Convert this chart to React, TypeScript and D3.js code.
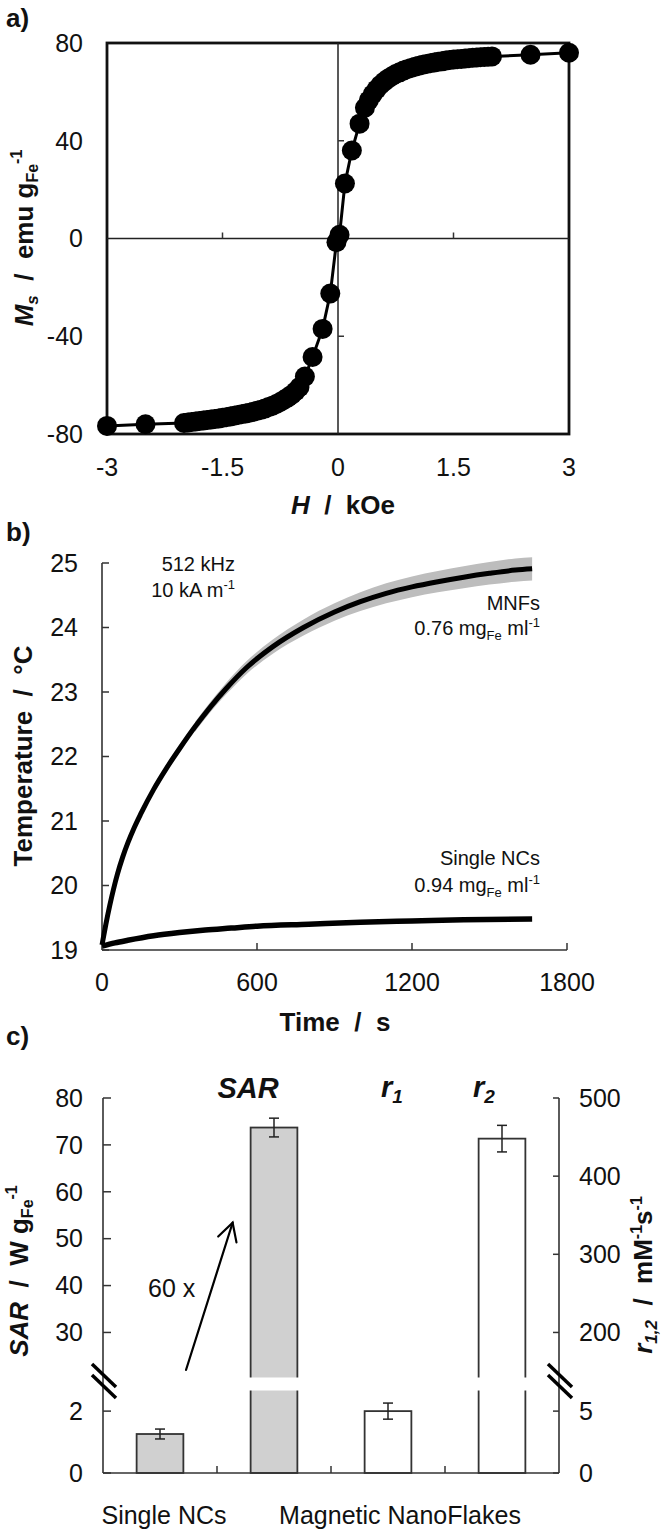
import React from 'react';
import * as d3 from 'd3';

const FONT = '"Liberation Sans", Arial, Helvetica, sans-serif';
const INK = '#111';

// ---------- Panel a: magnetization loop ----------
const loopH = [
  -3.0, -2.5, -2.0,
  -1.95, -1.9, -1.85, -1.8, -1.75, -1.7, -1.65, -1.6, -1.55, -1.5,
  -1.45, -1.4, -1.35, -1.3, -1.25, -1.2, -1.15, -1.1, -1.05, -1.0,
  -0.95, -0.9, -0.85, -0.8, -0.75, -0.7, -0.65, -0.6, -0.55, -0.5,
  -0.43, -0.33, -0.2, -0.1, -0.02,
  0.02, 0.09, 0.18, 0.28, 0.35,
  0.4, 0.45, 0.5, 0.55, 0.6, 0.65, 0.7, 0.75, 0.8, 0.85,
  0.9, 0.95, 1.0, 1.05, 1.1, 1.15, 1.2, 1.25, 1.3, 1.35,
  1.4, 1.45, 1.5, 1.55, 1.6, 1.65, 1.7, 1.75, 1.8, 1.85,
  1.9, 1.95, 2.0, 2.5, 3.0,
];
const loopM = [
  -76.7, -76.0, -75.5,
  -75.3, -75.1, -74.9, -74.7, -74.5, -74.3, -74.1, -73.9, -73.7, -73.4,
  -73.1, -72.8, -72.5, -72.2, -71.9, -71.6, -71.3, -70.9, -70.5, -70.1,
  -69.6, -69.0, -68.4, -67.7, -66.9, -66.0, -65.0, -63.9, -62.5, -60.8,
  -56.5, -48.5, -37.0, -22.5, -1.5,
  1.5, 22.5, 36.0, 47.0, 53.5,
  56.5, 59.0, 61.0, 62.8, 64.2, 65.4, 66.4, 67.3, 68.0, 68.7,
  69.3, 69.8, 70.3, 70.7, 71.1, 71.4, 71.7, 72.0, 72.3, 72.5,
  72.8, 73.0, 73.2, 73.4, 73.5, 73.7, 73.8, 74.0, 74.1, 74.2,
  74.3, 74.4, 74.5, 75.2, 76.0,
];
const aXTicks = [-3, -1.5, 0, 1.5, 3];
const aYTicks = [-80, -40, 0, 40, 80];

// ---------- Panel b: heating curves ----------
const mnfTime = [0, 15, 30, 45, 60, 80, 100, 125, 150, 200, 250, 300, 360, 420, 480, 560, 660, 780, 900, 1000, 1100, 1200, 1300, 1400, 1500, 1600, 1665];
const mnfTemp = [19.08, 19.4, 19.69, 19.95, 20.18, 20.44, 20.66, 20.9, 21.11, 21.49, 21.82, 22.12, 22.46, 22.77, 23.05, 23.38, 23.7, 24.0, 24.24, 24.4, 24.53, 24.63, 24.71, 24.78, 24.84, 24.89, 24.91];
const mnfSpread = [0, 0, 0, 0, 0, 0, 0, 0, 0, 0, 0, 0, 0.015, 0.02, 0.03, 0.04, 0.05, 0.065, 0.075, 0.085, 0.095, 0.1, 0.105, 0.11, 0.115, 0.12, 0.12];
const sncTime = [0, 50, 100, 200, 300, 400, 500, 600, 800, 1000, 1200, 1400, 1665];
const sncTemp = [19.06, 19.11, 19.15, 19.22, 19.27, 19.31, 19.34, 19.37, 19.4, 19.43, 19.45, 19.47, 19.48];
const bXTicks = [0, 600, 1200, 1800];
const bYTicks = [19, 20, 21, 22, 23, 24, 25];

// ---------- Panel c: SAR and relaxivities ----------
const barKeys = ['snc-sar', 'mnf-sar', 'mnf-r1', 'mnf-r2'];
const barValues = [1.26, 73.7, 5.0, 448];
const barErrors = [0.16, 2.0, 0.65, 17];
const barAxis = ['left', 'left', 'right', 'right'];
const barFilled = [true, true, false, false];
const cLeftUpperTicks = [30, 40, 50, 60, 70, 80];
const cLeftLowerTicks = [0, 2];
const cRightUpperTicks = [200, 300, 400, 500];
const cRightLowerTicks = [0, 5];

function Tick({ x1, y1, x2, y2, w = 1.5 }: any) {
  return <line x1={x1} y1={y1} x2={x2} y2={y2} stroke="#333" strokeWidth={w} />;
}

export default function App() {
  // ---- scales a
  const ax = d3.scaleLinear().domain([-3, 3]).range([107, 569]);
  const ay = d3.scaleLinear().domain([-80, 80]).range([434, 43]);
  const loopPts: [number, number][] = loopH.map((h, i) => [h, loopM[i]]);
  const loopLine = d3.line<[number, number]>().x((d) => ax(d[0])).y((d) => ay(d[1]));

  // ---- scales b
  const bx = d3.scaleLinear().domain([0, 1800]).range([102, 567]);
  const by = d3.scaleLinear().domain([19, 25]).range([950, 563]);
  const mnfPts = mnfTime.map((t, i) => ({ t, v: mnfTemp[i], s: mnfSpread[i] }));
  const sncPts = sncTime.map((t, i) => ({ t, v: sncTemp[i] }));
  const bLine = d3.line<any>().x((d) => bx(d.t)).y((d) => by(d.v)).curve(d3.curveMonotoneX);
  const bArea = d3
    .area<any>()
    .x((d) => bx(d.t))
    .y0((d) => by(d.v - d.s - 0.06))
    .y1((d) => by(d.v + d.s + 0.06))
    .curve(d3.curveMonotoneX);
  const bandPts = mnfPts.filter((d) => d.t >= 360);

  // ---- scales c
  const cx = d3.scaleBand().domain(barKeys).range([103, 559]).paddingInner(0.59).paddingOuter(0.295);
  const sarLow = d3.scaleLinear().domain([0, 2.65]).range([1473, 1391]);
  const sarHigh = d3.scaleLinear().domain([20.5, 80]).range([1377, 1098]);
  const relLow = d3.scaleLinear().domain([0, 6.625]).range([1473, 1391]);
  const relHigh = d3.scaleLinear().domain([143, 500]).range([1377, 1098]);
  const yOf = (axis: string, v: number) =>
    axis === 'left' ? (v <= 2.65 ? sarLow(v) : sarHigh(v)) : v <= 6.625 ? relLow(v) : relHigh(v);
  const cBase = 1473;
  const gapTop = 1377.5;
  const gapBot = 1390.5;
  const [cL, cR] = cx.range() as [number, number];
  const step = cx.step();
  const bw = cx.bandwidth();
  const cCenter = (i: number) => (cx(barKeys[i]) as number) + bw / 2;

  // arrow "60 x"
  const tail = [cCenter(0) + 26, sarHigh(22)];
  const tip = [(cx(barKeys[1]) as number) - 18, sarHigh(53.4)];
  const ang = Math.atan2(tail[1] - tip[1], tail[0] - tip[0]);
  const wing = (da: number) => [tip[0] + 20 * Math.cos(ang + da), tip[1] + 20 * Math.sin(ang + da)];
  const w1 = wing(0.5);
  const w2 = wing(-0.5);

  const breakMark = (x: number, key: string) => (
    <g key={key}>
      <line x1={x - 11} y1={1364} x2={x + 13} y2={1387} stroke="#000" strokeWidth={3.5} />
      <line x1={x - 11} y1={1375} x2={x + 13} y2={1398} stroke="#000" strokeWidth={3.5} />
    </g>
  );

  return (
    <svg
      width={666}
      height={1531}
      viewBox="0 0 666 1531"
      style={{ position: 'absolute', left: 0, top: 0, background: '#fff' }}
      fontFamily={FONT}
      fill={INK}
    >
      <rect x={0} y={0} width={666} height={1531} fill="#fff" />

      {/* ================= Panel a ================= */}
      <text x={6} y={27} fontSize={26} fontWeight="bold">a)</text>
      <rect x={ax(-3)} y={ay(80)} width={ax(3) - ax(-3)} height={ay(-80) - ay(80)} fill="none" stroke="#111" strokeWidth={2.8} />
      <line x1={ax(0)} y1={ay(80)} x2={ax(0)} y2={ay(-80)} stroke="#222" strokeWidth={1.5} />
      <line x1={ax(-3)} y1={ay(0)} x2={ax(3)} y2={ay(0)} stroke="#222" strokeWidth={1.5} />
      {[-1.5, 1.5].map((v) => (
        <Tick key={'axt' + v} x1={ax(v)} y1={ay(0)} x2={ax(v)} y2={ay(0) - 6} />
      ))}
      {[-40, 40].map((v) => (
        <Tick key={'ayt' + v} x1={ax(0)} y1={ay(v)} x2={ax(0) + 6} y2={ay(v)} />
      ))}
      {aYTicks.map((v) => (
        <text key={'ayl' + v} x={83} y={ay(v)} dy="0.35em" textAnchor="end" fontSize={25}>{v}</text>
      ))}
      {aXTicks.map((v) => (
        <text key={'axl' + v} x={ax(v)} y={467} dy="0.35em" textAnchor="middle" fontSize={25}>{v}</text>
      ))}
      <path d={loopLine(loopPts) as string} fill="none" stroke="#000" strokeWidth={3} />
      {loopPts.map((d, i) => (
        <circle key={'pt' + i} cx={ax(d[0])} cy={ay(d[1])} r={10} fill="#000" />
      ))}
      <text x={343} y={505} dy="0.35em" textAnchor="middle" fontSize={26} fontWeight="bold">
        <tspan fontStyle="italic">H</tspan>
        <tspan>{'\u00a0\u00a0/\u00a0\u00a0kOe'}</tspan>
      </text>
      <text transform="translate(33,238) rotate(-90)" textAnchor="middle" fontSize={26} fontWeight="bold">
        <tspan fontStyle="italic">M</tspan>
        <tspan fontStyle="italic" fontSize={17} dy={5}>s</tspan>
        <tspan dy={-5}>{'\u00a0\u00a0/\u00a0\u00a0emu\u00a0g'}</tspan>
        <tspan fontSize={16} dy={5}>Fe</tspan>
        <tspan fontSize={16} dy={-16}>-1</tspan>
      </text>

      {/* ================= Panel b ================= */}
      <text x={6} y={541} fontSize={26} fontWeight="bold">b)</text>
      <line x1={bx(0)} y1={by(25)} x2={bx(0)} y2={by(19)} stroke="#333" strokeWidth={1.6} />
      <line x1={bx(0)} y1={by(19)} x2={bx(1800)} y2={by(19)} stroke="#333" strokeWidth={1.6} />
      {bYTicks.map((v) => (
        <Tick key={'byt' + v} x1={bx(0)} y1={by(v)} x2={bx(0) + 7} y2={by(v)} />
      ))}
      {bXTicks.filter((v) => v > 0).map((v) => (
        <Tick key={'bxt' + v} x1={bx(v)} y1={by(19)} x2={bx(v)} y2={by(19) - 7} />
      ))}
      {bYTicks.map((v) => (
        <text key={'byl' + v} x={78} y={by(v)} dy="0.35em" textAnchor="end" fontSize={25}>{v}</text>
      ))}
      {bXTicks.map((v) => (
        <text key={'bxl' + v} x={bx(v)} y={982} dy="0.35em" textAnchor="middle" fontSize={25}>{v}</text>
      ))}
      <path d={bArea(bandPts) as string} fill="#bdbdbd" stroke="none" />
      <path d={bLine(mnfPts) as string} fill="none" stroke="#000" strokeWidth={5} />
      <path d={bLine(sncPts) as string} fill="none" stroke="#000" strokeWidth={5.5} />
      <text x={335} y={1022} dy="0.35em" textAnchor="middle" fontSize={26} fontWeight="bold">
        {'Time\u00a0\u00a0/\u00a0\u00a0s'}
      </text>
      <text transform="translate(32,756) rotate(-90)" textAnchor="middle" fontSize={26} fontWeight="bold">
        {'Temperature\u00a0\u00a0/\u00a0\u00a0°C'}
      </text>
      <text x={235} y={564} dy="0.35em" textAnchor="end" fontSize={20}>512 kHz</text>
      <text x={235} y={590} dy="0.35em" textAnchor="end" fontSize={20}>
        <tspan>{'10 kA m'}</tspan>
        <tspan fontSize={13} dy={-8}>-1</tspan>
      </text>
      <text x={540} y={603} dy="0.35em" textAnchor="end" fontSize={20}>MNFs</text>
      <text x={540} y={628} dy="0.35em" textAnchor="end" fontSize={20}>
        <tspan>{'0.76 mg'}</tspan>
        <tspan fontSize={13} dy={5}>Fe</tspan>
        <tspan dy={-5}>{'\u00a0ml'}</tspan>
        <tspan fontSize={13} dy={-8}>-1</tspan>
      </text>
      <text x={540} y={858} dy="0.35em" textAnchor="end" fontSize={20}>Single NCs</text>
      <text x={540} y={885} dy="0.35em" textAnchor="end" fontSize={20}>
        <tspan>{'0.94 mg'}</tspan>
        <tspan fontSize={13} dy={5}>Fe</tspan>
        <tspan dy={-5}>{'\u00a0ml'}</tspan>
        <tspan fontSize={13} dy={-8}>-1</tspan>
      </text>

      {/* ================= Panel c ================= */}
      <text x={6} y={1045} fontSize={26} fontWeight="bold">c)</text>

      {barKeys.map((k, i) => {
        const x0 = cx(k) as number;
        const yTop = yOf(barAxis[i], barValues[i]);
        return (
          <rect key={'bar' + k} x={x0} y={yTop} width={bw} height={cBase - yTop}
            fill={barFilled[i] ? '#d0d0d0' : '#fff'} stroke="#333" strokeWidth={1.8} />
        );
      })}
      {barKeys.map((k, i) => {
        const yTop = yOf(barAxis[i], barValues[i]);
        if (yTop > gapTop) return null;
        return <rect key={'gap' + k} x={(cx(k) as number) - 3} y={gapTop} width={bw + 6} height={gapBot - gapTop} fill="#fff" />;
      })}
      {barKeys.map((k, i) => {
        const c = cCenter(i);
        const yHi = yOf(barAxis[i], barValues[i] + barErrors[i]);
        const yLo = yOf(barAxis[i], barValues[i] - barErrors[i]);
        return (
          <g key={'err' + k} stroke="#222" strokeWidth={1.5}>
            <line x1={c} y1={yHi} x2={c} y2={yLo} />
            <line x1={c - 5} y1={yHi} x2={c + 5} y2={yHi} />
            <line x1={c - 5} y1={yLo} x2={c + 5} y2={yLo} />
          </g>
        );
      })}

      <line x1={cL} y1={sarHigh(80)} x2={cL} y2={cBase} stroke="#333" strokeWidth={1.6} />
      <line x1={cR} y1={relHigh(500)} x2={cR} y2={cBase} stroke="#333" strokeWidth={1.6} />
      <line x1={cL} y1={cBase} x2={cR} y2={cBase} stroke="#333" strokeWidth={1.6} />
      {[1, 2, 3].map((i) => (
        <Tick key={'cxt' + i} x1={cL + i * step} y1={cBase} x2={cL + i * step} y2={cBase - 7} />
      ))}
      {cLeftUpperTicks.map((v) => (
        <Tick key={'clu' + v} x1={cL} y1={sarHigh(v)} x2={cL + 8} y2={sarHigh(v)} />
      ))}
      {cLeftLowerTicks.map((v) => (
        <Tick key={'cll' + v} x1={cL} y1={sarLow(v)} x2={cL + 8} y2={sarLow(v)} />
      ))}
      {cRightUpperTicks.map((v) => (
        <Tick key={'cru' + v} x1={cR} y1={relHigh(v)} x2={cR - 6} y2={relHigh(v)} />
      ))}
      {cRightLowerTicks.map((v) => (
        <Tick key={'crl' + v} x1={cR} y1={relLow(v)} x2={cR - 6} y2={relLow(v)} />
      ))}
      {cLeftUpperTicks.map((v) => (
        <text key={'clul' + v} x={83} y={sarHigh(v)} dy="0.35em" textAnchor="end" fontSize={25}>{v}</text>
      ))}
      {cLeftLowerTicks.map((v) => (
        <text key={'clll' + v} x={83} y={sarLow(v)} dy="0.35em" textAnchor="end" fontSize={25}>{v}</text>
      ))}
      {cRightUpperTicks.map((v) => (
        <text key={'crul' + v} x={579} y={relHigh(v)} dy="0.35em" textAnchor="start" fontSize={25}>{v}</text>
      ))}
      {cRightLowerTicks.map((v) => (
        <text key={'crll' + v} x={579} y={relLow(v)} dy="0.35em" textAnchor="start" fontSize={25}>{v}</text>
      ))}
      {breakMark(cL, 'bl')}
      {breakMark(cR, 'br')}

      <text x={248} y={1088} dy="0.35em" textAnchor="middle" fontSize={29} fontWeight="bold" fontStyle="italic">SAR</text>
      <text x={381} y={1097} fontSize={29} fontWeight="bold" fontStyle="italic">
        <tspan>r</tspan>
        <tspan fontSize={19} dy={6}>1</tspan>
      </text>
      <text x={473} y={1097} fontSize={29} fontWeight="bold" fontStyle="italic">
        <tspan>r</tspan>
        <tspan fontSize={19} dy={6}>2</tspan>
      </text>

      <text x={148} y={1288} dy="0.35em" fontSize={25}>60 x</text>
      <g stroke="#000" strokeWidth={2.2} fill="none" strokeLinecap="round">
        <line x1={tail[0]} y1={tail[1]} x2={tip[0]} y2={tip[1]} />
        <polyline points={`${w1[0]},${w1[1]} ${tip[0]},${tip[1]} ${w2[0]},${w2[1]}`} />
      </g>

      <text x={cCenter(0) + 4} y={1515} dy="0.35em" textAnchor="middle" fontSize={25}>Single NCs</text>
      <text x={(cCenter(1) + cCenter(3)) / 2 + 12} y={1515} dy="0.35em" textAnchor="middle" fontSize={25}>Magnetic NanoFlakes</text>

      <text transform="translate(28,1271) rotate(-90)" textAnchor="middle" fontSize={26} fontWeight="bold">
        <tspan fontStyle="italic">SAR</tspan>
        <tspan>{'\u00a0\u00a0/\u00a0\u00a0W\u00a0g'}</tspan>
        <tspan fontSize={16} dy={5}>Fe</tspan>
        <tspan fontSize={16} dy={-16}>-1</tspan>
      </text>
      <text transform="translate(652,1275) rotate(-90)" textAnchor="middle" fontSize={26} fontWeight="bold">
        <tspan fontStyle="italic">r</tspan>
        <tspan fontStyle="italic" fontSize={17} dy={5}>1,2</tspan>
        <tspan dy={-5}>{'\u00a0\u00a0/\u00a0\u00a0mM'}</tspan>
        <tspan fontSize={16} dy={-10}>-1</tspan>
        <tspan dy={10}>s</tspan>
        <tspan fontSize={16} dy={-10}>-1</tspan>
      </text>
    </svg>
  );
}
